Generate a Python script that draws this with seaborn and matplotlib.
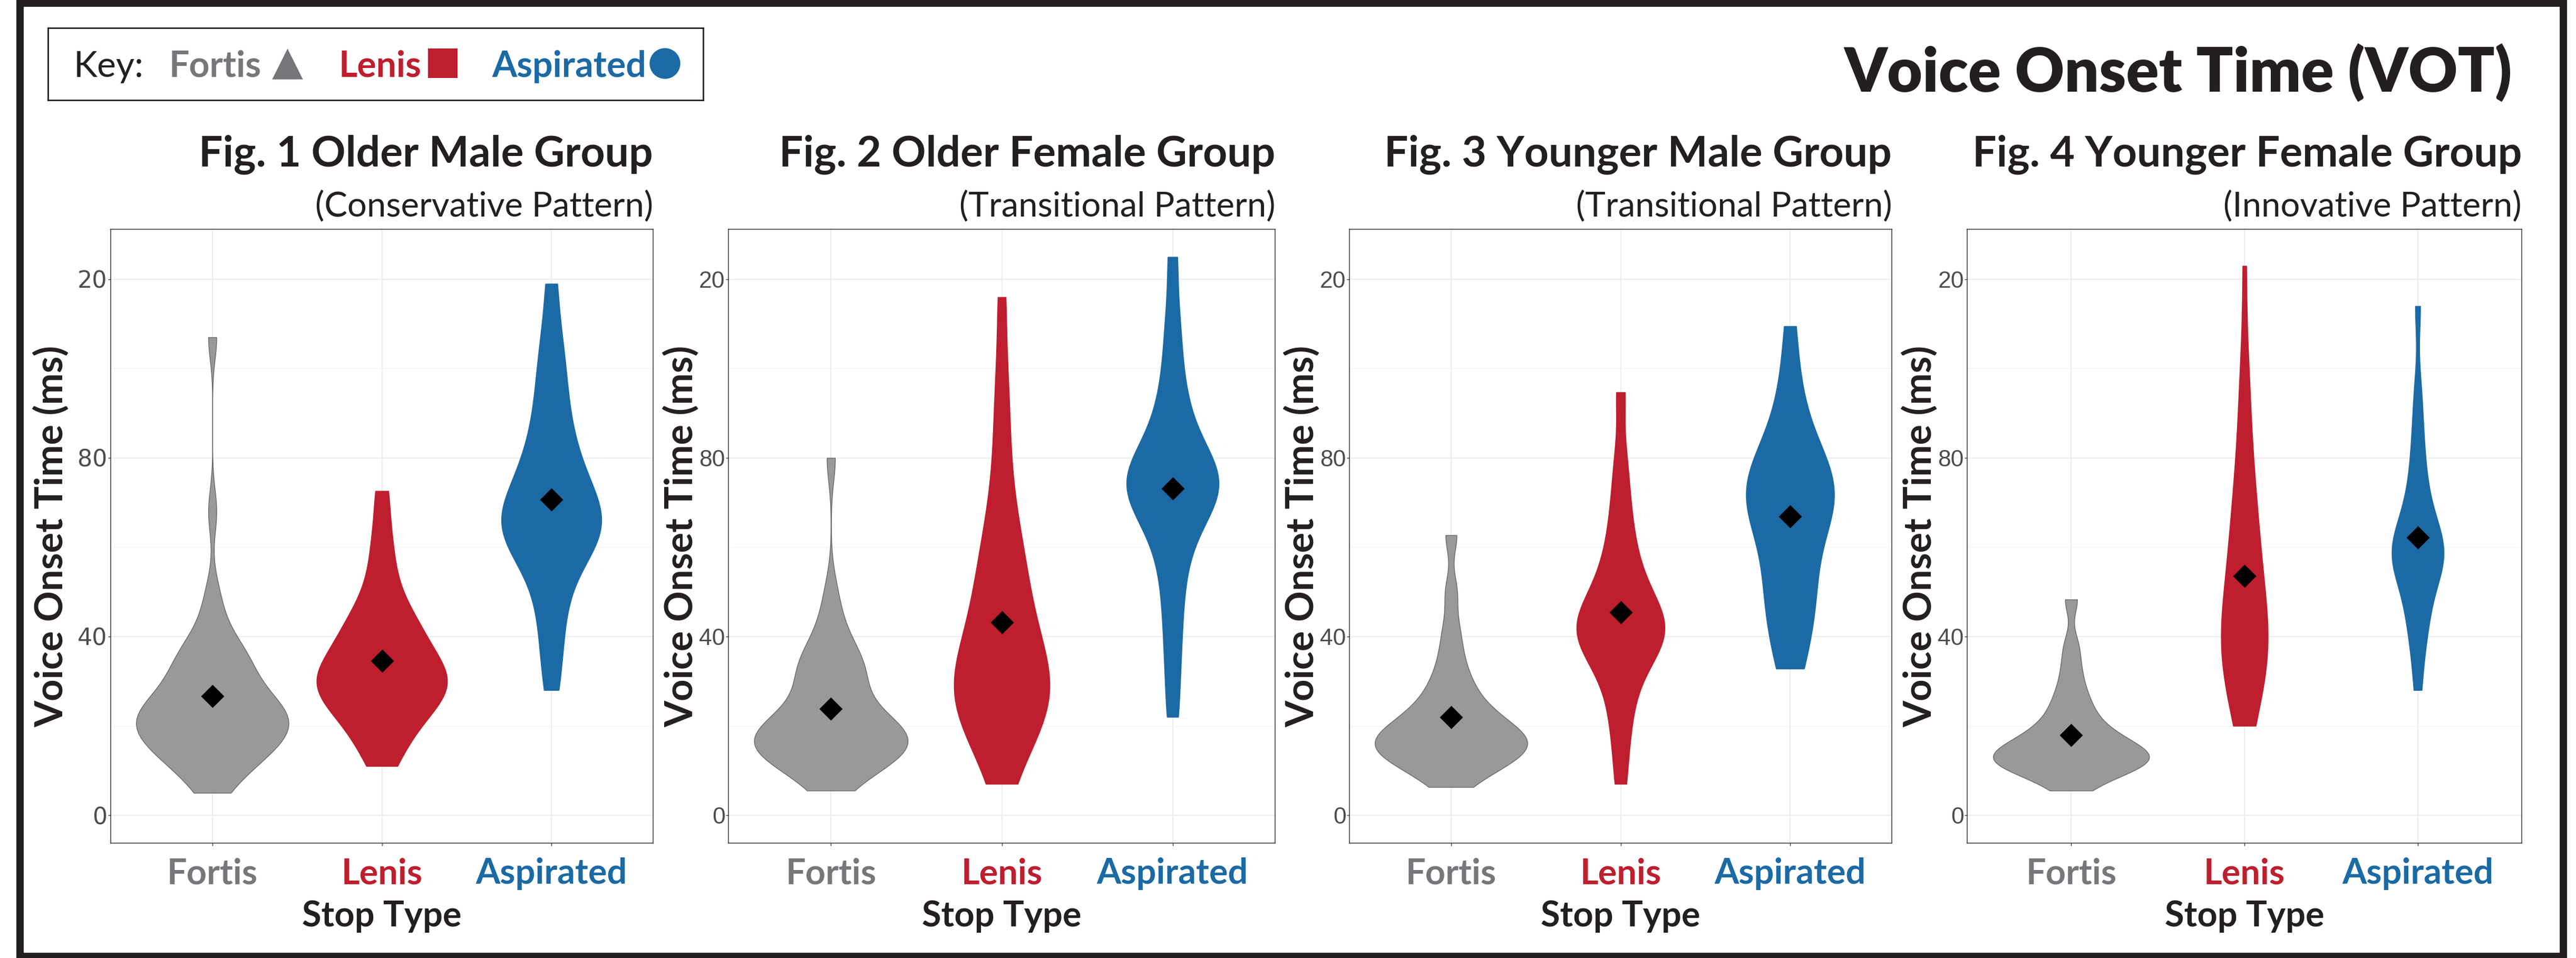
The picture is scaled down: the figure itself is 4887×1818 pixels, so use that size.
import numpy as np
import pandas as pd
import matplotlib
matplotlib.use("Agg")
import matplotlib.pyplot as plt
import seaborn as sns
from matplotlib.patches import Rectangle

# -----------------------------
# DATA (VOT in ms)
# -----------------------------
stops = ["Fortis", "Lenis", "Aspirated"]
violin_colors = ["#999999", "#BE1E2D", "#1B6AA5"]
edge_colors = ["#666666", "#BE1E2D", "#1B6AA5"]
label_colors = ["#77777B", "#BE1E2D", "#1B6AA5"]

panel_titles = ["Fig. 1 Older Male Group", "Fig. 2 Older Female Group",
                "Fig. 3 Younger Male Group", "Fig. 4 Younger Female Group"]
panel_subtitles = ["(Conservative Pattern)", "(Transitional Pattern)",
                   "(Transitional Pattern)", "(Innovative Pattern)"]

older_male_fortis = [5, 7, 9, 11, 12, 13, 14, 14, 15, 16, 16, 17, 18, 19, 19,
                     20, 20, 21, 21, 22, 22, 23, 23, 24, 24, 25, 26, 27, 28, 29, 30,
                     31, 33, 34, 35, 36, 37, 38, 41, 45, 50, 68, 107]
older_male_lenis = [11, 14, 17, 19, 21, 23, 24, 25, 26, 27, 28, 29, 30, 30, 31, 32,
                    33, 34, 35, 36, 38, 40, 41, 42, 44, 46, 49, 53, 58, 64, 72.6]
older_male_asp = [28, 36, 42, 48, 52, 56, 59, 61, 62, 63, 64, 65, 66, 67, 68, 70, 72,
                  74, 76, 78, 81, 84, 88, 92, 97, 102, 108, 119]

older_female_fortis = [5.5, 9, 10, 11, 12, 13, 14, 14, 15, 15, 16, 16, 17, 17, 17, 18,
                       18, 18, 19, 20, 21, 22, 23, 25, 27, 29, 31, 32, 33, 34, 35, 37,
                       40, 44, 50, 80]
older_female_lenis = [7, 12, 16, 19, 21, 23, 24, 25, 26, 27, 28, 29, 30, 32, 34, 36,
                      38, 40, 42, 45, 48, 51, 54, 57, 60, 64, 70, 78, 88, 98, 116]
older_female_asp = [22, 32, 40, 47, 53, 58, 62, 65, 67, 69, 71, 72, 73, 74, 75, 76,
                    77, 78, 80, 82, 85, 88, 92, 97, 104, 112, 125]

younger_male_fortis = [6.3, 9, 10, 11, 12, 13, 13, 14, 15, 15, 16, 16, 17, 17, 18, 18,
                       19, 20, 21, 22, 23, 24, 26, 28, 30, 33, 37, 42, 50, 62.7]
younger_male_lenis = [7, 16, 22, 27, 31, 34, 36, 38, 39, 40, 41, 42, 43, 44, 45, 47,
                      49, 51, 54, 57, 61, 66, 72, 80, 94.7]
younger_male_asp = [32.8, 35, 40, 45, 47, 50, 52, 56, 60, 63, 66, 68, 70, 71, 72, 73,
                    74, 75, 77, 79, 82, 86, 91, 98, 109.5]

younger_female_fortis = [5.5, 8, 9, 10, 11, 11, 12, 12, 12, 13, 13, 14, 14, 15, 15,
                         16, 17, 18, 19, 20, 22, 24, 26, 29, 33, 38, 48.3]
younger_female_lenis = [20, 22, 24, 26, 28, 31, 33, 35, 36, 37, 38, 39, 40, 41, 43, 45,
                        47, 49, 51, 53, 55, 57, 60, 62, 65, 68, 71, 74, 78, 83, 90,
                        95, 104, 123]
younger_female_asp = [28, 36, 41, 44, 47, 50, 53, 55, 56, 57, 58, 59, 60, 61, 62, 64,
                      66, 69, 72, 76, 81, 87, 95, 114]

groups = [
    (older_male_fortis, older_male_lenis, older_male_asp),
    (older_female_fortis, older_female_lenis, older_female_asp),
    (younger_male_fortis, younger_male_lenis, younger_male_asp),
    (younger_female_fortis, younger_female_lenis, younger_female_asp),
]

# violin widths (fraction of category spacing) as drawn in each panel
violin_widths = [
    [0.90, 0.77, 0.59],
    [0.90, 0.56, 0.54],
    [0.90, 0.52, 0.52],
    [0.90, 0.27, 0.30],
]

y_ticks = [0, 40, 80, 120]
y_tick_labels = ["0", "40", "80", "20"]


# R-style nrd0 bandwidth, given as a factor of the sample sd for gaussian_kde
def nrd0(kde):
    x = np.ravel(kde.dataset)
    sd = x.std(ddof=1)
    iqr = np.subtract(*np.percentile(x, [75, 25]))
    bw = 0.9 * min(sd, iqr / 1.34) * len(x) ** -0.2
    return bw / sd


# -----------------------------
# FIGURE
# -----------------------------
W, H = 4887, 1818
sns.set_theme(style="white")
plt.rcParams["font.family"] = ["Lato", "DejaVu Sans"]

fig = plt.figure(figsize=(W / 100, H / 100), dpi=100)
fig.patch.set_facecolor("white")

lefts = [210, 1382, 2560, 3732]
rights = [1239, 2419, 3589, 4784]
top, bottom = 435, 1600

for i, (vals, l, r) in enumerate(zip(groups, lefts, rights)):
    ax = fig.add_axes([l / W, 1 - bottom / H, (r - l) / W, (bottom - top) / H])
    df = pd.DataFrame({
        "stop": np.repeat(stops, [len(v) for v in vals]),
        "vot": np.concatenate([np.array(v, dtype=float) for v in vals]),
    })

    for j, stop in enumerate(stops):
        sns.violinplot(data=df[df["stop"] == stop], x="stop", y="vot", order=stops,
                       color=violin_colors[j], saturation=1, cut=0, inner=None,
                       density_norm="width", width=violin_widths[i][j],
                       bw_method=nrd0, linewidth=1, linecolor=edge_colors[j],
                       ax=ax)

    # mean markers
    sns.pointplot(data=df, x="stop", y="vot", order=stops, estimator="mean",
                  errorbar=None, color="black", markers="D", linestyles="none",
                  markersize=20, ax=ax)

    ax.set_xlim(-0.6, 2.6)
    ax.set_ylim(-6.25, 131.2)
    ax.set_yticks(y_ticks)
    ax.set_yticklabels(y_tick_labels)
    ax.set_yticks([20, 60, 100], minor=True)
    ax.set_xlabel("")
    ax.set_ylabel("")

    ax.set_axisbelow(True)
    ax.grid(True, which="major", color="#EBEBEB", lw=1.3)
    ax.grid(True, which="minor", axis="y", color="#F3F3F3", lw=1.0)

    for sp in ax.spines.values():
        sp.set_visible(True)
        sp.set_color("#333333")
        sp.set_linewidth(1.1)

    ax.tick_params(axis="both", which="major", direction="out", length=3.5,
                   width=1, color="#333333", bottom=True, left=True)
    ax.tick_params(axis="y", which="minor", length=0)
    ax.tick_params(axis="y", pad=1, labelsize=32, labelcolor="#4D4D4D")
    ax.tick_params(axis="x", pad=16)
    for lbl in ax.get_yticklabels():
        lbl.set_fontfamily("DejaVu Sans" if i == 0 else "Liberation Sans")
    for lbl, c in zip(ax.get_xticklabels(), label_colors):
        lbl.set_color(c)
        lbl.set_fontsize(48)
        lbl.set_fontweight("bold")

    # y label
    off = 113 if i == 0 else 90
    fig.text((l - off) / W, 1 - (top + bottom) / 2 / H, "Voice Onset Time (ms)",
             rotation=90, ha="center", va="center", fontsize=52, fontweight="bold",
             color="#231F20")
    # x label
    fig.text((l + r) / 2 / W, 1 - 1758 / H, "Stop Type", ha="center",
             va="baseline", fontsize=48, fontweight="bold", color="#231F20")
    # panel titles
    fig.text(r / W, 1 - 315 / H, panel_titles[i], ha="right", va="baseline",
             fontsize=58, fontweight="bold", color="#231F20")
    fig.text(r / W, 1 - 410 / H, panel_subtitles[i], ha="right", va="baseline",
             fontsize=47, color="#231F20")

# main title
fig.text(4766 / W, 1 - 175 / H, "Voice Onset Time (VOT)", ha="right",
         va="baseline", fontsize=83, fontweight="heavy", color="#231F20")

# key box
kx0, kx1, ky0, ky1 = 91, 1334, 53, 190
kax = fig.add_axes([kx0 / W, 1 - ky1 / H, (kx1 - kx0) / W, (ky1 - ky0) / H])
kax.set_xlim(kx0, kx1)
kax.set_ylim(ky1, ky0)
kax.set_xticks([])
kax.set_yticks([])
kax.set_facecolor("white")
for sp in kax.spines.values():
    sp.set_color("#231F20")
    sp.set_linewidth(2)
kax.text(140, 146, "Key:", fontsize=49, va="baseline", ha="left", color="#231F20")
kax.text(321, 146, "Fortis", fontsize=49, va="baseline", ha="left",
         fontweight="bold", color=label_colors[0])
kax.text(643, 146, "Lenis", fontsize=49, va="baseline", ha="left",
         fontweight="bold", color=label_colors[1])
kax.text(933, 146, "Aspirated", fontsize=49, va="baseline", ha="left",
         fontweight="bold", color=label_colors[2])
kax.scatter([545], [121], marker="^", s=42 ** 2, color=label_colors[0], linewidths=0)
kax.scatter([840], [120], marker="s", s=41 ** 2, color=label_colors[1], linewidths=0)
kax.scatter([1261], [120], marker="o", s=42 ** 2, color=label_colors[2], linewidths=0)

# outer frame
fig.add_artist(Rectangle((38 / W, 1 - 1815 / H), (4863 - 38) / W, (1815 - 6) / H,
                         transform=fig.transFigure, fill=False, lw=10,
                         ec="#231F20"))

fig.savefig("out.png", dpi=100)
